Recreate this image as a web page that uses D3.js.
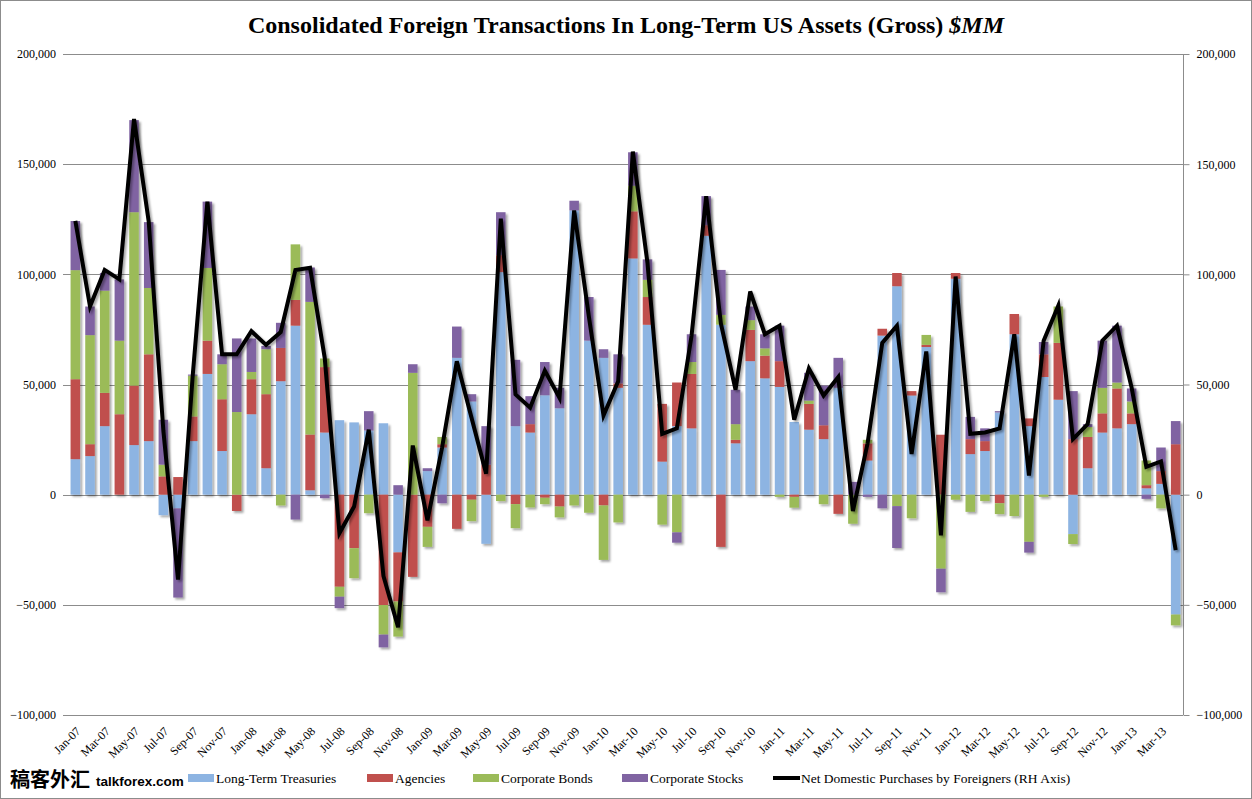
<!DOCTYPE html>
<html>
<head>
<meta charset="utf-8">
<script src="https://cdn.jsdelivr.net/npm/d3@7"></script>
<style>
  body { margin: 0; background: #fff; }
  svg { display: block; }
</style>
</head>
<body>
<script>
// monthly categories, Jan-07 .. Apr-13
var months = [
  "Jan-07","Feb-07","Mar-07","Apr-07","May-07","Jun-07","Jul-07","Aug-07","Sep-07","Oct-07","Nov-07","Dec-07",
  "Jan-08","Feb-08","Mar-08","Apr-08","May-08","Jun-08","Jul-08","Aug-08","Sep-08","Oct-08","Nov-08","Dec-08",
  "Jan-09","Feb-09","Mar-09","Apr-09","May-09","Jun-09","Jul-09","Aug-09","Sep-09","Oct-09","Nov-09","Dec-09",
  "Jan-10","Feb-10","Mar-10","Apr-10","May-10","Jun-10","Jul-10","Aug-10","Sep-10","Oct-10","Nov-10","Dec-10",
  "Jan-11","Feb-11","Mar-11","Apr-11","May-11","Jun-11","Jul-11","Aug-11","Sep-11","Oct-11","Nov-11","Dec-11",
  "Jan-12","Feb-12","Mar-12","Apr-12","May-12","Jun-12","Jul-12","Aug-12","Sep-12","Oct-12","Nov-12","Dec-12",
  "Jan-13","Feb-13","Mar-13","Apr-13"
];

// $MM
var treasuries = [
  16100,17500,31100,0,22500,24300,-9300,-6200,24300,54800,19800,0,
  36500,12000,51500,76700,2000,28200,33800,32800,29100,32400,-26200,0,
  10700,21400,62100,42300,-22300,101000,31100,28200,45100,39200,129000,69900,
  62100,48500,107200,77100,15000,31100,30100,117500,77100,23300,60600,52800,
  48900,33000,29500,25200,48500,0,15500,72200,94600,45000,67000,0,
  98000,18400,19800,37300,72800,31100,53400,43100,-17900,12000,28200,30100,
  32000,2900,4900,-54400
];
var agencies = [
  36300,5400,15100,36500,27000,39400,8300,8000,11200,15100,23500,-7400,
  15900,33600,15100,11700,25300,29700,-41800,-24300,0,-50100,-22300,-37300,
  -14600,1500,-15500,-2300,13600,7700,-4300,3800,-1400,-5400,0,0,
  -4900,2000,21400,12600,26200,19800,24700,4800,-23700,1600,14200,10300,
  11700,-1000,11700,6300,-8700,0,7800,3100,6000,2000,1000,27200,
  2600,6800,4500,-3900,9200,3500,10300,25800,25200,14200,8700,18100,
  4900,1400,5800,22900
];
var corpBonds = [
  49500,49500,46400,33400,78700,30100,5300,0,18500,33000,15900,37500,
  3300,20400,-4900,25200,60200,3900,-4500,-13600,-8400,-13400,-15900,55300,
  -9100,3300,0,-9700,0,-2900,-10900,-5800,-2900,-4900,-4900,-8200,
  -24700,-12600,11600,7800,-13600,-17100,5400,0,4500,7100,4400,3300,
  -1000,-4900,1500,-4300,0,-13200,1600,0,-5200,-10700,4500,-33600,
  -2300,-7800,-2900,-4900,-9700,-21400,-1000,16500,-4500,4500,11600,2700,
  5400,11200,-6200,-4900
];
var corpStocks = [
  22300,13000,8000,27800,41800,29900,20400,-40500,500,30100,4500,33400,
  15200,1500,11400,-11300,15600,-1600,-5200,0,8800,-5800,4300,3900,
  1300,-3900,14200,3300,17500,19500,30100,12700,15100,9300,4400,19800,
  3900,13200,15200,9300,0,-4700,12600,13200,20400,15600,6200,6400,
  16100,0,12600,18000,13600,5800,-1000,-6200,-19000,0,0,-10700,
  0,10100,5800,600,0,-4900,5600,0,21800,1300,21400,25800,
  5900,-1900,10700,10500
];
var netPurchases = [
  124300,85400,102000,97700,170500,124000,29000,-38500,54000,133000,63700,63700,
  74200,68000,73800,102000,103000,62000,-17500,-5400,29500,-36900,-60200,22300,
  -11700,21500,60500,35000,9500,125300,45500,39500,56300,44000,129000,81000,
  35900,51500,155700,105000,27600,30100,72000,135500,77700,47600,92200,72800,
  76700,34000,57300,45000,53400,-7400,23300,68900,76700,18500,65000,-18500,
  99000,27600,28200,30100,72800,8700,69900,85800,25200,32000,69900,76700,
  48500,12600,15100,-25200
];
var yTicks = [-100000,-50000,0,50000,100000,150000,200000];

var seriesNames = ["Long-Term Treasuries","Agencies","Corporate Bonds","Corporate Stocks"];
var seriesColors = ["#8db4e2","#c0504d","#9bbb59","#8064a2"];
var lineName = "Net Domestic Purchases by Foreigners (RH Axis)";

var W = 1252, H = 799;
var plotL = 68, plotR = 1183, plotT = 54, plotB = 715;
var serif = "'Liberation Serif', 'Times New Roman', serif";

var svg = d3.select("body").append("svg")
    .attr("width", W)
    .attr("height", H);

// frame round the whole picture
svg.append("rect")
    .attr("x", 0.5).attr("y", 0.5)
    .attr("width", W - 1).attr("height", H - 1)
    .attr("fill", "#fff").attr("stroke", "#8c8c8c");

var defs = svg.append("defs");
var sh = defs.append("filter").attr("id", "shadow")
    .attr("x", "-30%").attr("y", "-10%").attr("width", "160%").attr("height", "120%");
sh.append("feDropShadow").attr("dx", 2).attr("dy", 2).attr("stdDeviation", 1.3)
    .attr("flood-color", "#000").attr("flood-opacity", 0.35);

var x = d3.scaleBand().domain(months).range([plotL, plotR])
    .paddingInner(0.35).paddingOuter(0.175);
var y = d3.scaleLinear().domain([-100000, 200000]).range([plotB, plotT]);

var fmt = d3.format(",");

// gridlines
svg.append("g").selectAll("line").data(yTicks).enter().append("line")
    .attr("x1", plotL - 5).attr("x2", plotR)
    .attr("y1", function(d) { return Math.round(y(d)) + 0.5; })
    .attr("y2", function(d) { return Math.round(y(d)) + 0.5; })
    .attr("stroke", "#8c8c8c").attr("stroke-width", 1);

// left labels
svg.append("g").selectAll("text").data(yTicks).enter().append("text")
    .attr("x", 56).attr("y", function(d) { return y(d); })
    .attr("dy", "0.35em")
    .attr("text-anchor", "end")
    .style("font-family", serif)
    .style("font-size", "12px")
    .text(function(d) { return fmt(d); });

// right axis
var rAxis = svg.append("g")
    .attr("transform", "translate(" + (plotR + 0.5) + ",0)")
    .call(d3.axisRight(y).tickValues(yTicks).tickFormat(fmt).tickSize(6).tickPadding(7));
rAxis.select(".domain").attr("stroke", "#8c8c8c").attr("d", "M0," + plotT + "V" + plotB);
rAxis.selectAll(".tick line").attr("stroke", "#8c8c8c");
rAxis.selectAll("text")
    .style("font-family", serif)
    .style("font-size", "12px")
    .attr("fill", "#000");

// stacked bars, positives up and negatives down from zero
var rows = months.map(function(m, i) {
  return { month: m, s0: treasuries[i], s1: agencies[i], s2: corpBonds[i], s3: corpStocks[i] };
});
var stack = d3.stack().keys(["s0","s1","s2","s3"]).offset(d3.stackOffsetDiverging);
var layers = stack(rows);

var bars = svg.append("g").attr("filter", "url(#shadow)");
bars.selectAll("g").data(layers).enter().append("g")
    .attr("fill", function(d, i) { return seriesColors[i]; })
  .selectAll("rect").data(function(d) { return d; }).enter().append("rect")
    .attr("x", function(d) { return x(d.data.month); })
    .attr("width", x.bandwidth())
    .attr("y", function(d) { return y(Math.max(d[0], d[1])); })
    .attr("height", function(d) { return Math.abs(y(d[0]) - y(d[1])); });

// net purchases line (right axis, same scale)
var line = d3.line()
    .x(function(d, i) { return x(months[i]) + x.bandwidth() / 2; })
    .y(function(d) { return y(d); });
svg.append("path")
    .datum(netPurchases)
    .attr("d", line)
    .attr("fill", "none")
    .attr("stroke", "#000")
    .attr("stroke-width", 4)
    .attr("stroke-linejoin", "miter")
    .attr("filter", "url(#shadow)");

// month labels, every other month
svg.append("g").selectAll("text")
    .data(months.filter(function(d, i) { return i % 2 === 0; }))
    .enter().append("text")
    .attr("transform", function(d) {
      return "translate(" + (x(d) + x.bandwidth() / 2 + 6) + "," + (plotB + 17) + ") rotate(-45)";
    })
    .attr("text-anchor", "end")
    .style("font-family", serif)
    .style("font-size", "12px")
    .text(function(d) { return d; });

// title
var title = svg.append("text")
    .attr("x", 626).attr("y", 33)
    .attr("text-anchor", "middle")
    .style("font-family", serif)
    .style("font-size", "24px")
    .style("font-weight", "bold");
title.append("tspan").text("Consolidated Foreign Transactions In Long-Term US Assets (Gross) ");
title.append("tspan").style("font-style", "italic").text("$MM");

// watermark
svg.append("text")
    .attr("x", 10).attr("y", 787)
    .style("font-family", "'Noto Sans CJK SC', sans-serif")
    .style("font-size", "20px")
    .style("font-weight", "bold")
    .text("稿客外汇");
svg.append("text")
    .attr("x", 96).attr("y", 786)
    .style("font-family", "'Liberation Sans', Arial, sans-serif")
    .style("font-size", "13.5px")
    .style("font-weight", "bold")
    .text("talkforex.com");

// legend
var legendX = [188, 367, 473, 622, 773];
var legendItems = seriesNames.concat([lineName]);
var lg = svg.append("g").selectAll("g").data(legendItems).enter().append("g")
    .attr("transform", function(d, i) { return "translate(" + legendX[i] + ",778)"; });
lg.each(function(d, i) {
  var g = d3.select(this);
  if (i < 4) {
    g.append("rect").attr("x", 0).attr("y", -4).attr("width", 26).attr("height", 8)
        .attr("fill", seriesColors[i]);
  } else {
    g.append("line").attr("x1", 0).attr("x2", 27).attr("y1", 0).attr("y2", 0)
        .attr("stroke", "#000").attr("stroke-width", 4);
  }
  g.append("text").attr("x", 28).attr("y", 0).attr("dy", "0.35em")
      .style("font-family", serif)
      .style("font-size", "13.5px")
      .text(d);
});
</script>
</body>
</html>
